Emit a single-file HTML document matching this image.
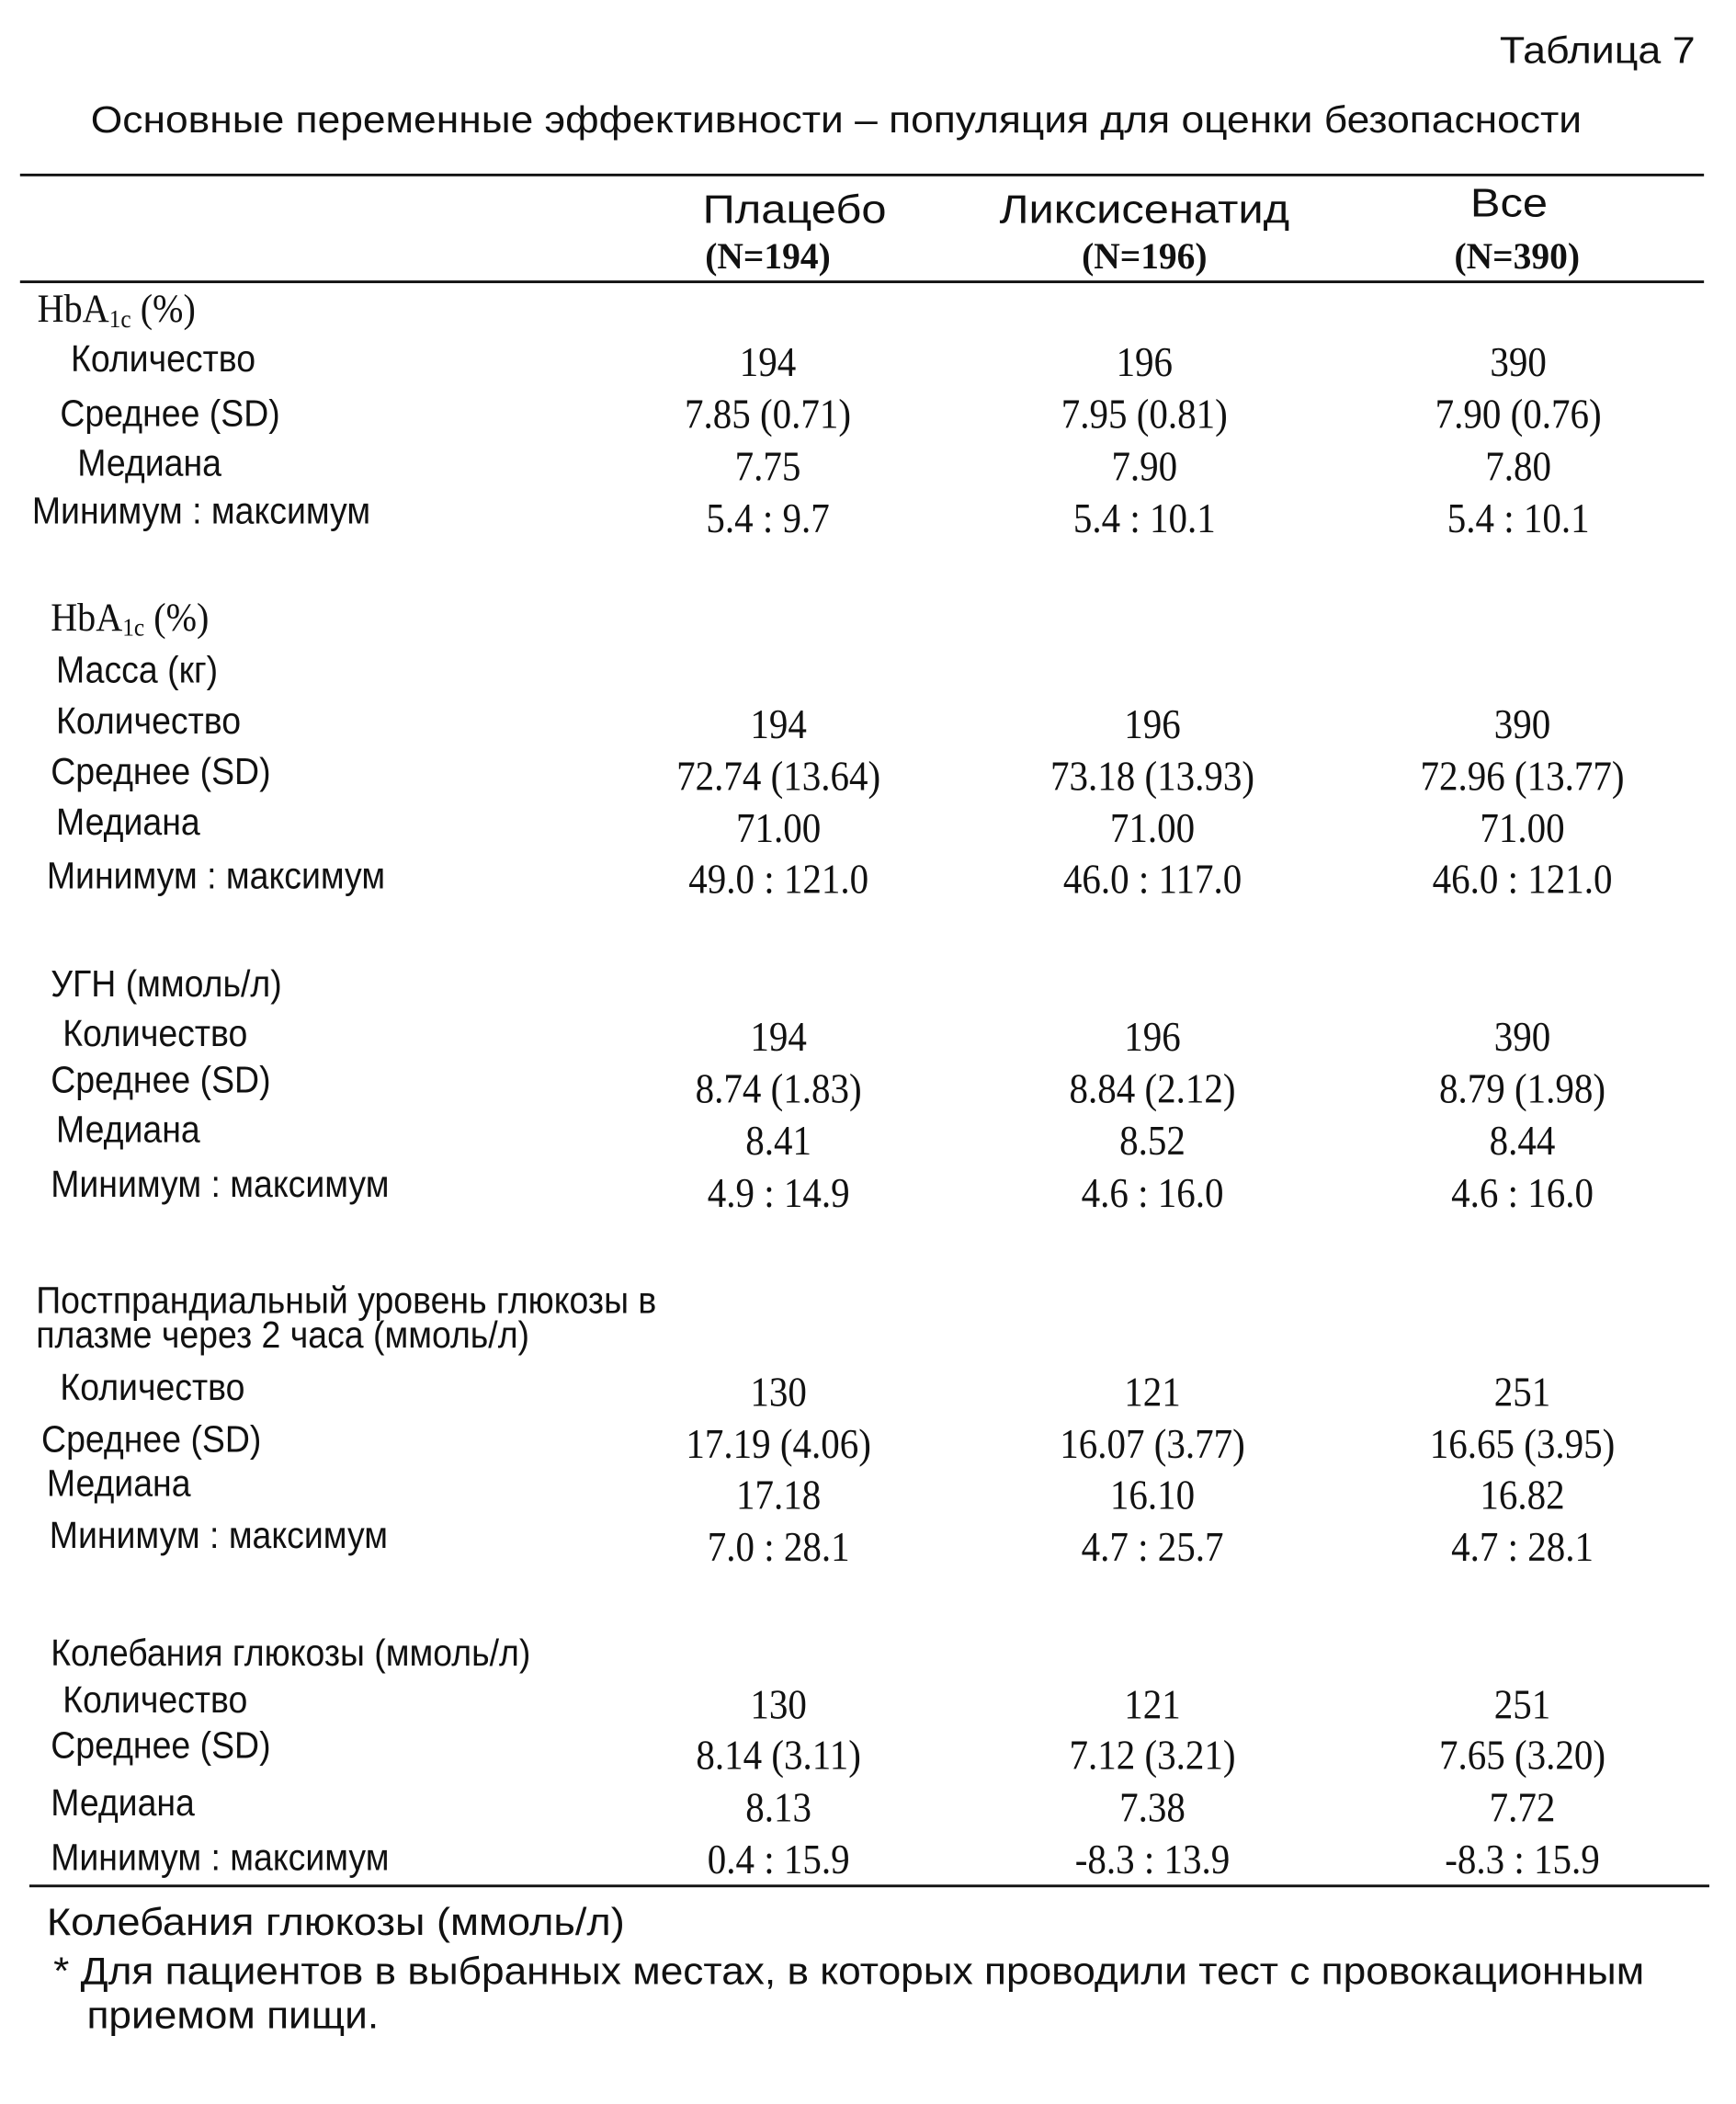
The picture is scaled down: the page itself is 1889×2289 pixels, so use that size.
<!DOCTYPE html>
<html><head><meta charset="utf-8">
<style>
html,body{margin:0;padding:0;background:#fff;}
body{width:1889px;height:2288px;overflow:hidden;position:relative;}
#root{position:absolute;left:0;top:0;width:1300px;height:1575px;transform:scale(1.4531);transform-origin:0 0;color:#111;}
.t{position:absolute;white-space:nowrap;line-height:1;}
.s{font-family:"Liberation Sans","DejaVu Sans",sans-serif;font-size:28px;transform-origin:0 50%;}
.lbl{transform:translateY(-50%) scaleX(0.92);}
.v{font-family:"Liberation Serif",serif;font-size:31px;transform:translate(-50%,-50%) scaleX(0.91);}
.h{font-family:"Liberation Sans",sans-serif;font-size:30px;transform:translate(-50%,-50%) scaleX(1.12);}
.hb{font-family:"Liberation Serif",serif;font-weight:bold;font-size:28px;transform:translate(-50%,-50%) scaleX(0.97);}
.line{position:absolute;height:2px;background:#111;}
</style></head><body>
<div id="root">
<div class="t s" style="left:1123px;top:38px;transform:translateY(-50%) scaleX(1.1);font-size:28px;">Таблица 7</div>
<div class="t s" style="left:68px;top:90px;transform:translateY(-50%) scaleX(1.09);font-size:28px;transform-origin:0 50%;">Основные переменные эффективности – популяция для оценки безопасности</div>
<div class="line" style="left:15px;width:1261px;top:130px;"></div>
<div class="t h" style="left:595px;top:158px;">Плацебо</div>
<div class="t hb" style="left:575px;top:193px;">(N=194)</div>
<div class="t h" style="left:857px;top:158px;">Ликсисенатид</div>
<div class="t hb" style="left:857px;top:193px;">(N=196)</div>
<div class="t h" style="left:1130px;top:153px;">Все</div>
<div class="t hb" style="left:1136px;top:193px;">(N=390)</div>
<div class="line" style="left:15px;width:1261px;top:210px;"></div>
<div class="line" style="left:22px;width:1258px;top:1411px;"></div>
<div class="t s" style="left:35px;top:1440px;transform:translateY(-50%) scaleX(1.07);font-size:29px;">Колебания глюкозы (ммоль/л)</div>
<div class="t s" style="left:40px;top:1477px;transform:translateY(-50%) scaleX(1.05);font-size:29px;">* Для пациентов в выбранных местах, в которых проводили тест с провокационным</div>
<div class="t s" style="left:65px;top:1510px;transform:translateY(-50%) scaleX(1.05);font-size:29px;">приемом пищи.</div>
</div>
<script>
var labels=[
[28,233,'HbA<sub style="font-size:19px;vertical-align:-4px">1c</sub> (%)','serif'],
[53,269,'Количество'],[45,310,'Среднее (SD)'],[58,347,'Медиана'],[24,383,'Минимум : максимум'],
[38,464,'HbA<sub style="font-size:19px;vertical-align:-4px">1c</sub> (%)','serif'],
[42,502,'Масса (кг)'],[42,540,'Количество'],[38,578,'Среднее (SD)'],[42,616,'Медиана'],[35,656,'Минимум : максимум'],
[38,737,'УГН (ммоль/л)'],[47,774,'Количество'],[38,809,'Среднее (SD)'],[42,846,'Медиана'],[38,887,'Минимум : максимум'],
[27,974,'Постпрандиальный уровень глюкозы в'],[27,1000,'плазме через 2 часа (ммоль/л)'],
[45,1039,'Количество'],[31,1078,'Среднее (SD)'],[35,1111,'Медиана'],[37,1150,'Минимум : максимум'],
[38,1238,'Колебания глюкозы (ммоль/л)'],[47,1273,'Количество'],[38,1307,'Среднее (SD)'],[38,1350,'Медиана'],[38,1391,'Минимум : максимум']
];
var rowY=[271,310,349,388,542,581,620,658,776,815,854,893,1042,1081,1119,1158,1276,1314,1353,1392];
var colX=[[575,857,1137],[583,863,1140],[583,863,1140],[583,863,1140],[583,863,1140]];
var placebo=['194','7.85 (0.71)','7.75','5.4 : 9.7','194','72.74 (13.64)','71.00','49.0 : 121.0','194','8.74 (1.83)','8.41','4.9 : 14.9','130','17.19 (4.06)','17.18','7.0 : 28.1','130','8.14 (3.11)','8.13','0.4 : 15.9'];
var lixi=['196','7.95 (0.81)','7.90','5.4 : 10.1','196','73.18 (13.93)','71.00','46.0 : 117.0','196','8.84 (2.12)','8.52','4.6 : 16.0','121','16.07 (3.77)','16.10','4.7 : 25.7','121','7.12 (3.21)','7.38','-8.3 : 13.9'];
var all=['390','7.90 (0.76)','7.80','5.4 : 10.1','390','72.96 (13.77)','71.00','46.0 : 121.0','390','8.79 (1.98)','8.44','4.6 : 16.0','251','16.65 (3.95)','16.82','4.7 : 28.1','251','7.65 (3.20)','7.72','-8.3 : 15.9'];
var root=document.getElementById('root');
labels.forEach(function(l){
  var d=document.createElement('div');
  d.className='t s lbl';
  d.style.left=l[0]+'px';d.style.top=l[1]+'px';
  if(l[3]){d.style.fontFamily='"Liberation Serif",serif';d.style.fontSize='30px';}
  d.innerHTML=l[2];
  
  
  root.appendChild(d);
});
[placebo,lixi,all].forEach(function(arr,c){
  arr.forEach(function(v,i){
    var d=document.createElement('div');
    d.className='t v';
    d.style.left=colX[Math.floor(i/4)][c]+'px';d.style.top=rowY[i]+'px';
    d.textContent=v;
    
    
    root.appendChild(d);
  });
});
</script>
</body></html>
